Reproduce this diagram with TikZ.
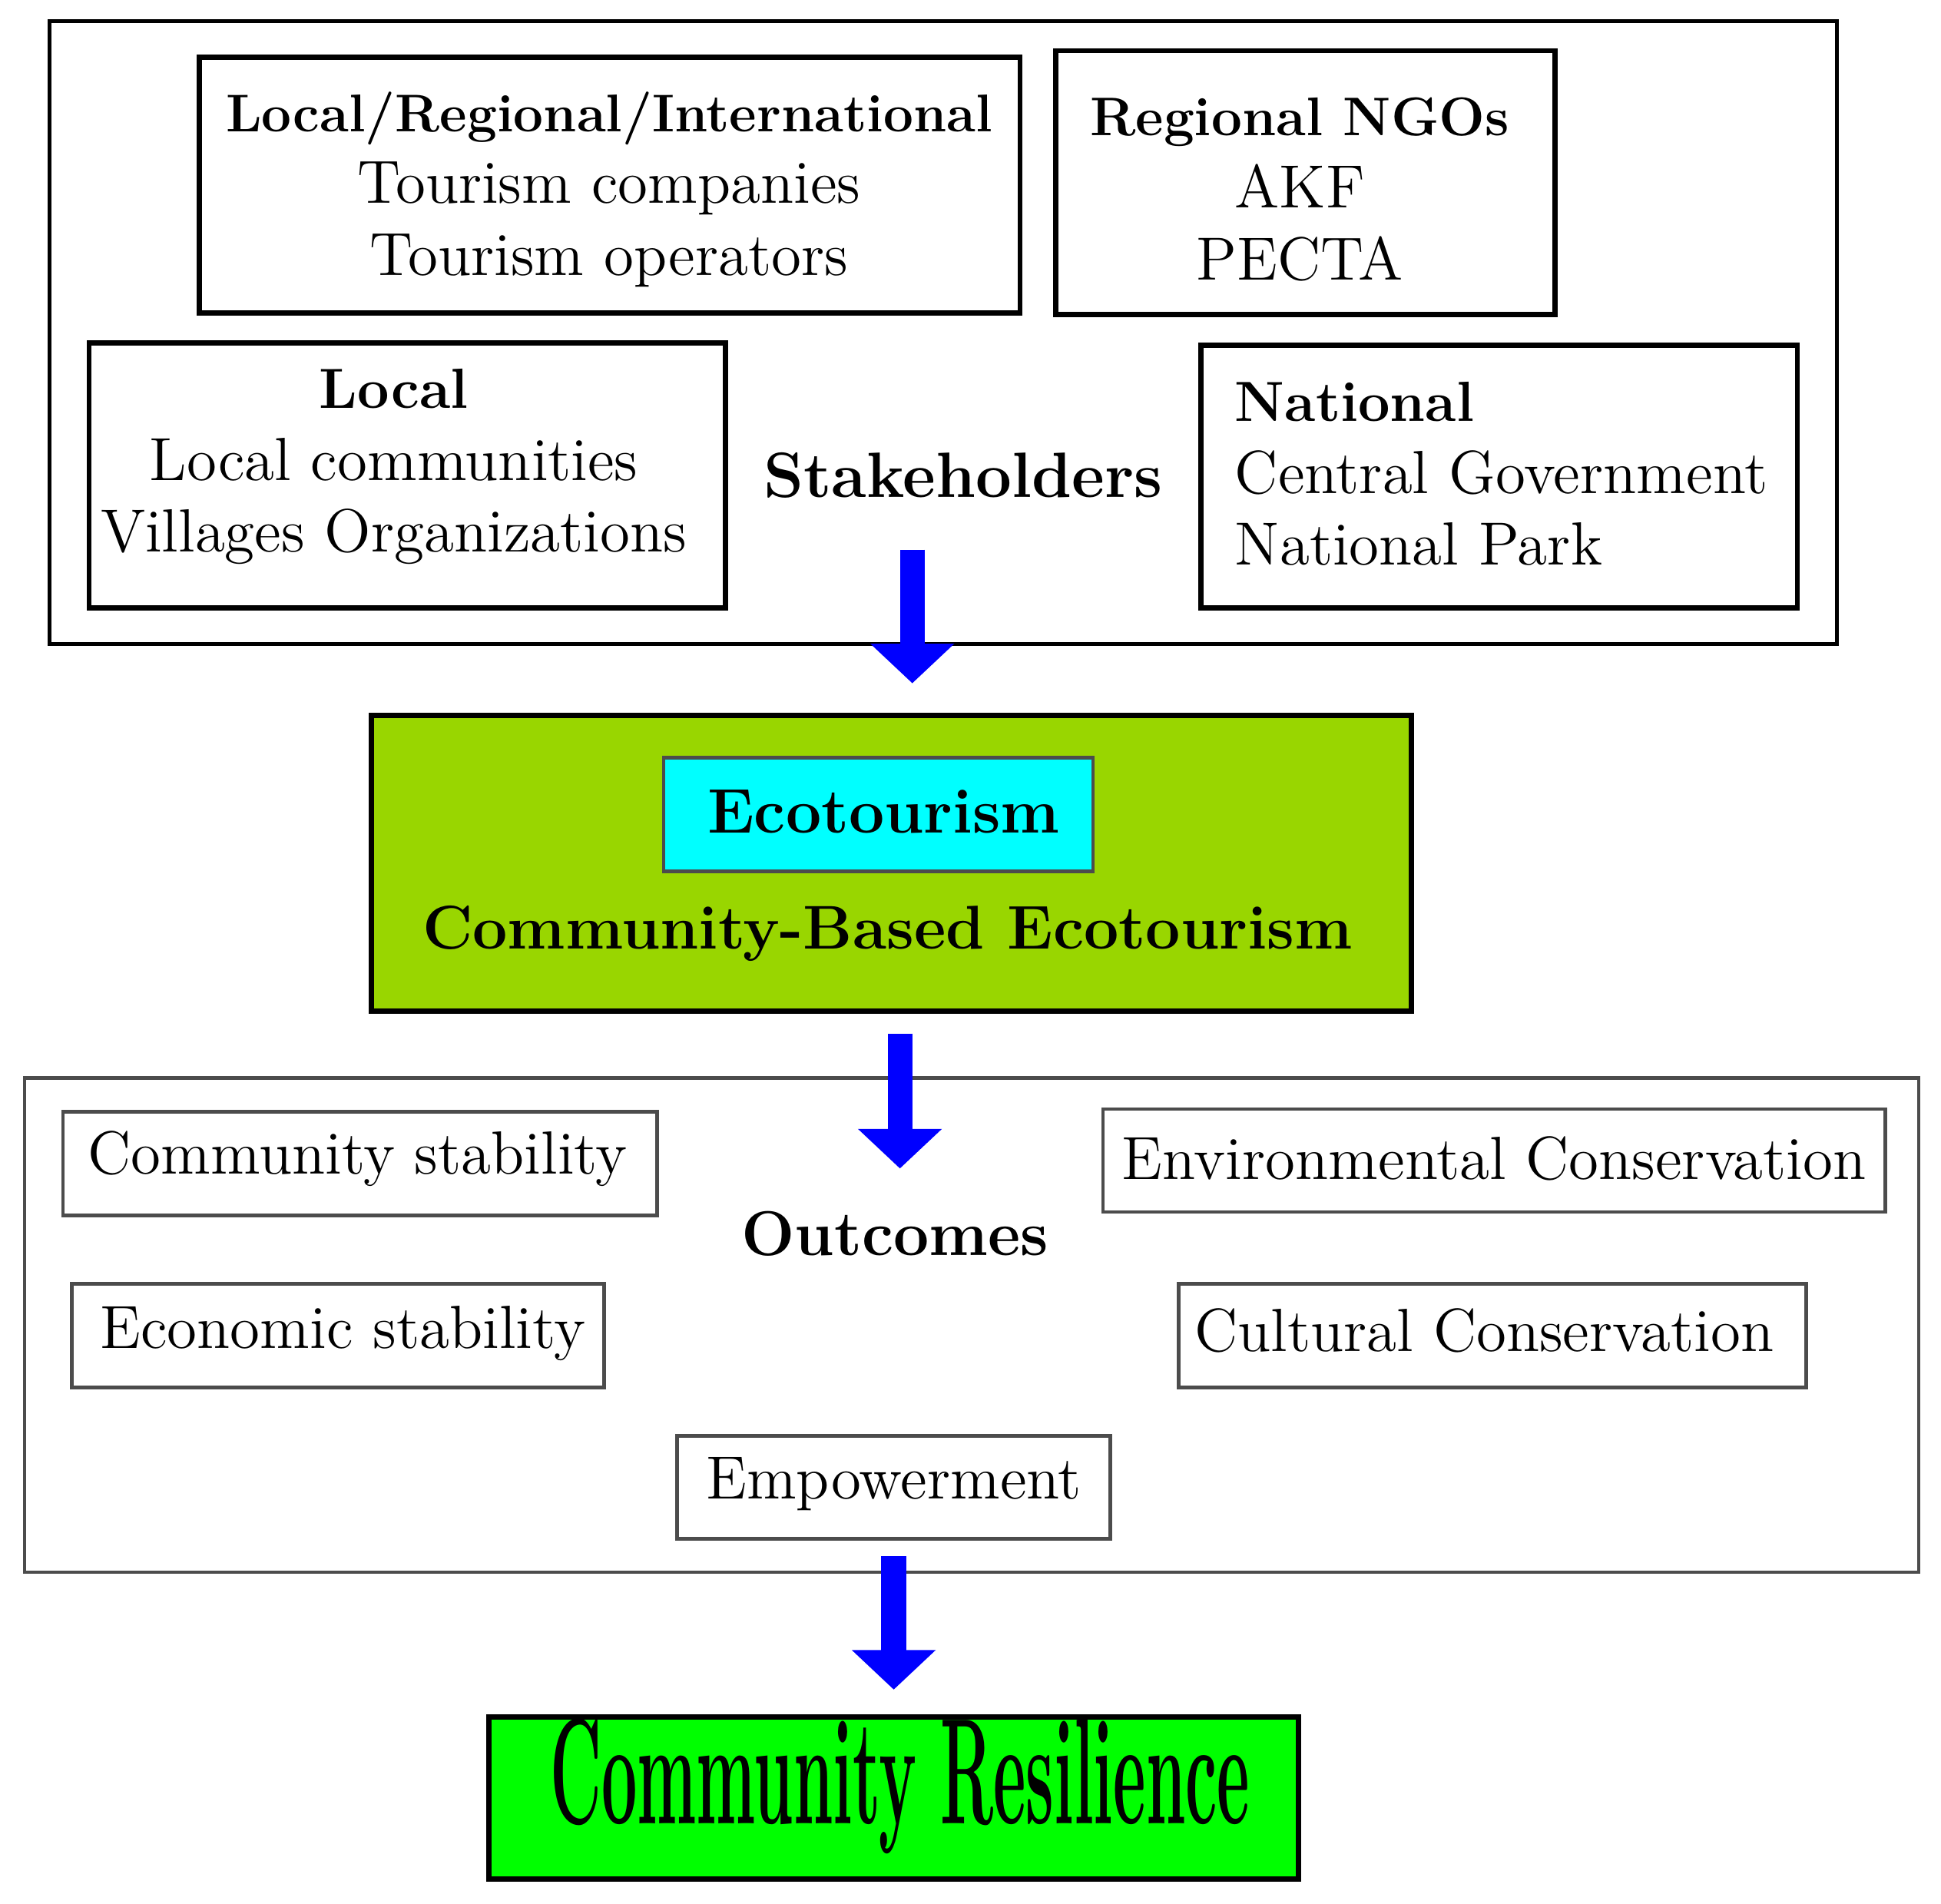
\documentclass[tikz,border=0pt]{standalone}
\usepackage{graphicx}
\usetikzlibrary{arrows.meta}
\definecolor{lime1}{HTML}{99D600}
\definecolor{cyan1}{HTML}{00FFFF}
\definecolor{green1}{HTML}{00FF00}
\definecolor{blue1}{HTML}{0000FF}
\tikzset{
 px/.style={x=0.01cm,y=-0.01cm},
 bx/.style={draw=black,line width=1.2pt},
 tbx/.style={draw=black!70,line width=0.8pt},
 txt/.style={font=\fontsize{14}{16.5}\selectfont,align=center,inner sep=0pt},
 bigarrow/.style={draw=blue1,line width=0.2cm,-{Triangle[width=0.66cm,length=0.32cm]}}
}
\begin{document}
\begin{tikzpicture}[px]
\useasboundingbox (0,0) rectangle (1568,1538);
% stakeholders
\draw[bx,line width=0.9pt] (40,17) rectangle (1484,520);
\draw[bx] (161,46) rectangle (824,253);
\draw[bx] (853,41) rectangle (1256,254);
\draw[bx] (72,277) rectangle (586,491);
\draw[bx] (970,279) rectangle (1452,491);
\node[txt] (t1) at (492,153) {{\fontsize{12.2}{16.5}\selectfont\textbf{Local/Regional/International}}\\Tourism companies\\Tourism operators};
\node[txt] (t2) at (1050,153) {{\fontsize{12.5}{16.5}\selectfont\textbf{Regional NGOs}}\\AKF\\PECTA};
\node[txt] (t3) at (318,377) {{\fontsize{13}{16.5}\selectfont\textbf{Local}}\\Local communities\\Villages Organizations};
\node[txt,align=left,anchor=west] (t4) at (997,383) {{\fontsize{13}{16.5}\selectfont\textbf{National}}\\Central Government\\National Park};
\node[txt,font=\fontsize{14.7}{18}\selectfont\bfseries] (sh) at (778,384) {Stakeholders};
% ecotourism
\draw[bx,fill=lime1] (300,578) rectangle (1140,817);
\draw[draw=black!70,line width=0.8pt,fill=cyan1] (536,612) rectangle (883,704);
\node[txt,font=\fontsize{14.5}{18}\selectfont\bfseries] (eco) at (714,656) {Ecotourism};
\node[txt,font=\fontsize{14.2}{18}\selectfont\bfseries] (cbe) at (717,754) {Community-Based Ecotourism};
% outcomes
\draw[tbx] (20,871) rectangle (1550,1270);
\draw[tbx] (51,898) rectangle (531,982);
\draw[tbx] (891,896) rectangle (1523,979);
\draw[tbx] (58,1037) rectangle (488,1121);
\draw[tbx] (952,1037) rectangle (1459,1121);
\draw[tbx] (547,1160) rectangle (897,1243);
\node[txt] (o1) at (289,936) {Community stability};
\node[txt] (o2) at (1207,936) {Environmental Conservation};
\node[txt] (o3) at (277,1077) {Economic stability};
\node[txt] (o4) at (1199,1075) {Cultural Conservation};
\node[txt] (o5) at (722,1199) {Empowerment};
\node[txt,font=\fontsize{14.5}{18}\selectfont\bfseries] (oc) at (723,997) {Outcomes};
% resilience
\draw[bx,fill=green1] (395,1387) rectangle (1049,1518);
\node[txt] (cr) at (727,1443) {\resizebox{5.65cm}{0.85cm}{\bfseries Community Resilience}};
% arrows
\coordinate (a1s) at (737,444); \coordinate (a1e) at (737,552);
\coordinate (a2s) at (727,835); \coordinate (a2e) at (727,944);
\coordinate (a3s) at (722,1257); \coordinate (a3e) at (722,1365);
\draw[bigarrow] (a1s) -- (a1e);
\draw[bigarrow] (a2s) -- (a2e);
\draw[bigarrow] (a3s) -- (a3e);
\end{tikzpicture}
\end{document}
